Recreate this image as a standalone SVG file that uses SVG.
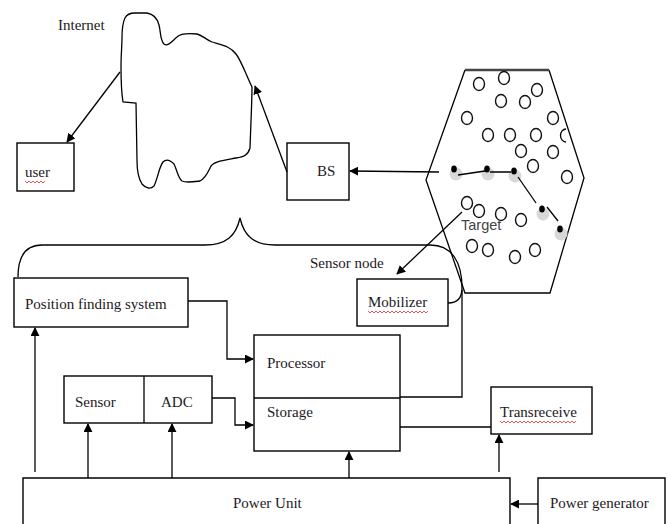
<svg xmlns="http://www.w3.org/2000/svg" width="670" height="524" viewBox="0 0 670 524">
<defs>
<marker id="ah" viewBox="0 0 10 10" refX="9" refY="5" markerWidth="9" markerHeight="9" markerUnits="userSpaceOnUse" orient="auto">
<path d="M0,0 L10,5 L0,10 Z" fill="#000"/>
</marker>
</defs>
<style>
.box{fill:#fff;stroke:#000;stroke-width:1.4}
.ln{fill:none;stroke:#000;stroke-width:1.3}
.arr{fill:none;stroke:#000;stroke-width:1.3;marker-end:url(#ah)}
.t{font-family:"Liberation Serif","Times New Roman",serif;font-size:15px;fill:#1e1824}
.ts{font-family:"Liberation Sans",Arial,sans-serif;font-size:14.5px;fill:#444}
.c{fill:#fff;stroke:#111;stroke-width:1.4}
.halo{fill:#d8d8d8}
.dot{fill:#000}
.sq{fill:none;stroke:#d44;stroke-width:0.9}
</style>
<rect width="670" height="524" fill="#fff"/>

<g id="internet">
<path class="ln" d="M125,18 C127,14 130,13 135,13 L147,13 C153,14 157,17 159,25 C161,33 160,40 164,44 C168,47 172,41 177,37 C180,34 185,33 197,34 C202,35 205,39 212,42 C222,45 230,46 236,54 C242,62 246,75 252,87 C252,100 251,120 250,148 C248,155 244,157 236,158 C225,160 215,161 211,166 C208,172 206,178 200,181 C192,182 186,183 182,181 C178,178 177,170 174,164 C170,160 166,159 163,162 C159,167 158,178 154,186 C151,189 146,189 142,184 C138,178 137,170 137,160 L136,103 L123,102 C121,90 121,80 121,67 C121,55 122,45 122,38 C122,30 123,22 125,18 Z"/>
<text class="t" x="58" y="30">Internet</text>
</g>

<g id="user">
<rect class="box" x="17" y="143" width="57" height="48"/>
<text class="t" x="25" y="177">user</text>
<path class="sq" stroke="#999" d="M25,181 l2,2 l2,-2 l2,2 l2,-2 l2,2 l2,-2 l2,2 l2,-2 l2,2 l2,-2"/>
</g>

<g id="bs">
<rect class="box" x="287" y="143" width="62" height="57"/>
<text class="t" x="317" y="176">BS</text>
</g>

<g id="field">
<path class="ln" stroke-width="1.2" d="M465,70 L426,180 L465,293 L550,293 L584,178 L549,70"/>
<line x1="465" y1="70" x2="549" y2="70" stroke="#444" stroke-width="2.6"/>
<g>
<ellipse class="c" cx="479" cy="84" rx="5.5" ry="6.5"/>
<ellipse class="c" cx="504" cy="78" rx="5.5" ry="6.5"/>
<ellipse class="c" cx="537" cy="90" rx="5.5" ry="6.5"/>
<ellipse class="c" cx="501" cy="101" rx="5.5" ry="6.5"/>
<ellipse class="c" cx="525" cy="102" rx="5.5" ry="6.5"/>
<ellipse class="c" cx="467" cy="118" rx="5.5" ry="6.5"/>
<ellipse class="c" cx="553" cy="118" rx="5.5" ry="6.5"/>
<ellipse class="c" cx="488" cy="135" rx="5.5" ry="6.5"/>
<ellipse class="c" cx="510" cy="135" rx="5.5" ry="6.5"/>
<ellipse class="c" cx="536" cy="135" rx="5.5" ry="6.5"/>
<path class="ln" d="M566,129 A5.5,6.5 0 0 0 566,142"/>
<ellipse class="c" cx="521" cy="151" rx="5.5" ry="6.5"/>
<ellipse class="c" cx="553" cy="152" rx="5.5" ry="6.5"/>
<ellipse class="c" cx="533" cy="166" rx="5.5" ry="6.5"/>
<ellipse class="c" cx="567" cy="177" rx="5.5" ry="6.5"/>
<ellipse class="c" cx="467" cy="203" rx="5.5" ry="6.5"/>
<ellipse class="c" cx="479" cy="211" rx="5.5" ry="6.5"/>
<ellipse class="c" cx="501" cy="214" rx="5.5" ry="6.5"/>
<ellipse class="c" cx="521" cy="220" rx="5.5" ry="6.5"/>
<ellipse class="c" cx="472" cy="246" rx="5.5" ry="6.5"/>
<ellipse class="c" cx="488" cy="250" rx="5.5" ry="6.5"/>
<ellipse class="c" cx="515" cy="257" rx="5.5" ry="6.5"/>
<ellipse class="c" cx="535" cy="250" rx="5.5" ry="6.5"/>
</g>
<g>
<circle class="halo" cx="456" cy="174" r="6.5"/>
<circle class="halo" cx="488" cy="174" r="6.5"/>
<circle class="halo" cx="515" cy="176" r="6.5"/>
<circle class="halo" cx="543" cy="214" r="6.5"/>
<circle class="halo" cx="561" cy="234" r="6.5"/>
<path class="ln" d="M458,175 L485,171 M490,172 L511,172 M518,177 L536,203 M547,207 L558,221"/>
<ellipse class="dot" cx="454" cy="169" rx="2.8" ry="3.5"/>
<ellipse class="dot" cx="487" cy="169" rx="2.8" ry="3.5"/>
<ellipse class="dot" cx="514" cy="171" rx="2.8" ry="3.5"/>
<ellipse class="dot" cx="542" cy="209" rx="2.8" ry="3.5"/>
<ellipse class="dot" cx="560" cy="229" rx="2.8" ry="3.5"/>
</g>
<text class="ts" x="461" y="230">Target</text>
</g>

<g id="sensor-node-label">
<text class="t" x="310" y="268">Sensor node</text>
</g>

<g id="position-finding">
<rect class="box" x="14" y="278" width="174" height="49"/>
<text class="t" x="25" y="309">Position finding system</text>
</g>

<g id="mobilizer">
<rect class="box" x="357" y="279" width="91" height="47"/>
<text class="t" x="368" y="307">Mobilizer</text>
<path class="sq" d="M368,311 l2,2 l2,-2 l2,2 l2,-2 l2,2 l2,-2 l2,2 l2,-2 l2,2 l2,-2 l2,2 l2,-2 l2,2 l2,-2 l2,2 l2,-2 l2,2 l2,-2 l2,2 l2,-2 l2,2 l2,-2 l2,2 l2,-2 l2,2 l2,-2 l2,2 l2,-2 l2,2 l2,-2"/>
</g>

<g id="processor">
<rect class="box" x="254" y="335" width="146" height="116"/>
<line class="ln" x1="254" y1="398" x2="400" y2="398"/>
<text class="t" x="267" y="368">Processor</text>
<text class="t" x="267" y="417">Storage</text>
</g>

<g id="sensor-adc">
<rect class="box" x="64" y="376" width="148" height="47"/>
<line class="ln" x1="144" y1="376" x2="144" y2="423"/>
<text class="t" x="75" y="407">Sensor</text>
<text class="t" x="161" y="407">ADC</text>
</g>

<g id="transreceive">
<rect class="box" x="491" y="387" width="101" height="47"/>
<text class="t" x="500" y="417">Transreceive</text>
<path class="sq" d="M500,421 l2,2 l2,-2 l2,2 l2,-2 l2,2 l2,-2 l2,2 l2,-2 l2,2 l2,-2 l2,2 l2,-2 l2,2 l2,-2 l2,2 l2,-2 l2,2 l2,-2 l2,2 l2,-2 l2,2 l2,-2 l2,2 l2,-2 l2,2 l2,-2 l2,2 l2,-2 l2,2 l2,-2 l2,2 l2,-2 l2,2 l2,-2 l2,2 l2,-2 l2,2 l2,-2"/>
</g>

<g id="power-unit">
<path class="box" d="M23,526 L23,478 L510,478 L510,526"/>
<text class="t" x="233" y="508">Power Unit</text>
</g>

<g id="power-generator">
<path class="box" d="M538,526 L538,478 L665,478 L665,526"/>
<text class="t" x="550" y="508">Power generator</text>
</g>

<g id="connectors">
<path class="arr" d="M120,72 L67,142"/>
<path class="arr" d="M287,172 L255,86"/>
<path class="arr" d="M439,172 L350,171"/>
<path class="arr" d="M462,212 L397,274"/>
<path class="ln" d="M18,277 C18,258 25,245 42,245 L205,245 C226,245 236,236 240,218 C244,236 254,245 275,245 L430,245 C452,245 462,262 462,288 C462,298 458,303 448,303"/>
<path class="ln" d="M462,290 L462,397 L400,397"/>
<path class="arr" d="M188,301 L227,301 L227,359 L253,359"/>
<path class="arr" d="M212,398 L235,398 L235,425 L253,425"/>
<path class="ln" d="M400,427 L491,427"/>
<path class="arr" d="M35,472 L35,328"/>
<path class="arr" d="M88,478 L88,424"/>
<path class="arr" d="M172,478 L172,424"/>
<path class="arr" d="M349,478 L349,452"/>
<path class="arr" d="M499,472 L499,435"/>
<path class="arr" stroke="#333" stroke-width="2" d="M538,504 L511,504"/>
</g>
</svg>
